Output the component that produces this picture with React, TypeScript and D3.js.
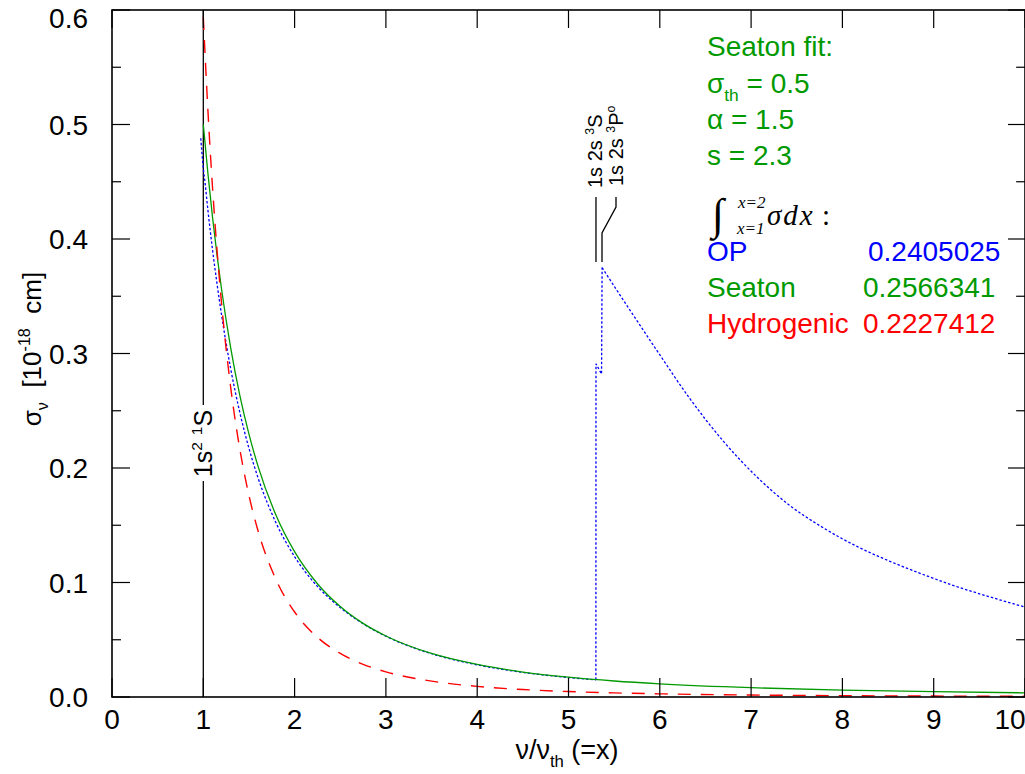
import React from 'react';
import * as d3 from 'd3';

// ---------- data ----------
const seatonX = [1, 1.05, 1.1, 1.15, 1.2, 1.3, 1.4, 1.5, 1.6, 1.8, 2.0, 2.25, 2.5, 2.75, 3.0, 3.5, 4.0, 4.5, 5.0, 5.5, 6.0, 7.0, 8.0, 9.0, 10.0];
const seatonY = [0.5, 0.4576, 0.4198, 0.3862, 0.3561, 0.305, 0.2635, 0.2296, 0.2014, 0.1581, 0.1269, 0.0989, 0.079, 0.0643, 0.0533, 0.038, 0.0284, 0.0218, 0.01728, 0.01396, 0.01149, 0.00813, 0.00602, 0.00461, 0.00363];

const hydroX = [1, 1.05, 1.1, 1.15, 1.2, 1.3, 1.4, 1.5, 1.6, 1.8, 2.0, 2.25, 2.5, 2.75, 3.0, 3.5, 4.0, 4.5, 5.0, 5.5, 6.0, 7.0, 8.0, 9.0, 10.0];
const hydroY = [0.594, 0.5131, 0.4463, 0.3906, 0.3438, 0.2704, 0.2165, 0.176, 0.145, 0.1019, 0.07425, 0.05215, 0.03802, 0.02856, 0.022, 0.01386, 0.00928, 0.00652, 0.00475, 0.00357, 0.00275, 0.00173, 0.00116, 0.000815, 0.000594];

// OP cross-section: below the 1s2s thresholds
const opX1 = [0.972, 1.0, 1.02, 1.05, 1.1, 1.15, 1.2, 1.3, 1.4, 1.5, 1.6, 1.8, 2.0, 2.25, 2.5, 2.75, 3.0, 3.5, 4.0, 4.5, 5.0, 5.3];
const opY1 = [0.488, 0.462, 0.4486, 0.4256, 0.3913, 0.3611, 0.3337, 0.2867, 0.2485, 0.2172, 0.1913, 0.1515, 0.1226, 0.0966, 0.0781, 0.064, 0.0531, 0.0378, 0.0281, 0.0215, 0.017, 0.015];
// OP edge structure at the 1s2s 3S / 3P thresholds
const opXEdge = [5.3, 5.301, 5.362, 5.368];
const opYEdge = [0.015, 0.291, 0.282, 0.375];
// OP above the thresholds
const opX2 = [5.368, 5.6, 5.965, 6.33, 6.695, 7.06, 7.42, 7.79, 8.16, 8.52, 8.885, 9.25, 9.62, 10.0];
const opY2 = [0.375, 0.3467, 0.303, 0.2605, 0.2235, 0.1925, 0.1675, 0.1478, 0.1315, 0.1185, 0.107, 0.0965, 0.0873, 0.0785];

const xTicks = [0, 1, 2, 3, 4, 5, 6, 7, 8, 9, 10];
const xTickLabels = ['0', '1', '2', '3', '4', '5', '6', '7', '8', '9', '10'];
const yTicks = [0, 0.1, 0.2, 0.3, 0.4, 0.5, 0.6];
const yTickLabels = ['0.0', '0.1', '0.2', '0.3', '0.4', '0.5', '0.6'];
const yMinorTicks = [0.05, 0.15, 0.25, 0.35, 0.45, 0.55];

const thresholdX = [1.0, 5.301, 5.367];

const fitLines = ['Seaton fit:', '= 0.5', 'α = 1.5', 's = 2.3'];
const integralNames = ['OP', 'Seaton', 'Hydrogenic'];
const integralValues = ['0.2405025', '0.2566341', '0.2227412'];

// ---------- layout ----------
const W = 1025;
const H = 774;
const L = 112, R = 1025, T = 10, B = 697;
const FONT = '"Liberation Sans", Arial, Helvetica, sans-serif';
const SERIF = '"Liberation Serif", "Times New Roman", serif';
const GREEN = '#009a00';
const BLUE = '#0000ff';
const RED = '#ff0000';

type Part = { t: string; sup?: boolean; sub?: boolean };

function rich(parts: Part[], size: number) {
  let cur = 0;
  return parts.map((p, i) => {
    const target = p.sup ? -0.42 * size : p.sub ? 0.28 * size : 0;
    const dy = target - cur;
    cur = target;
    return (
      <tspan key={i} dy={dy} fontSize={p.sup || p.sub ? size * 0.62 : size}>
        {p.t}
      </tspan>
    );
  });
}

export default function App() {
  const x = d3.scaleLinear().domain([0, 10]).range([L, R]);
  const y = d3.scaleLinear().domain([0, 0.6]).range([B, T]);

  const smooth = d3
    .line<[number, number]>()
    .x((d) => x(d[0]))
    .y((d) => y(d[1]))
    .curve(d3.curveMonotoneX);
  const straight = d3
    .line<[number, number]>()
    .x((d) => x(d[0]))
    .y((d) => y(d[1]));

  const zip = (a: number[], b: number[]) => a.map((v, i) => [v, b[i]] as [number, number]);

  const seatonPath = smooth(zip(seatonX, seatonY)) || '';
  const hydroPath = smooth(zip(hydroX, hydroY)) || '';
  const op1 = smooth(zip(opX1, opY1)) || '';
  const opE = straight(zip(opXEdge, opYEdge)) || '';
  const op2 = smooth(zip(opX2, opY2)) || '';

  const x1 = x(thresholdX[0]);
  const xa = x(thresholdX[1]);
  const xb = x(thresholdX[2]);

  return (
    <svg
      width={W}
      height={H}
      style={{ position: 'absolute', left: 0, top: 0, background: '#fff' }}
      fontFamily={FONT}
    >
      <defs>
        <clipPath id="plot">
          <rect x={L} y={T} width={R - L} height={B - T} />
        </clipPath>
      </defs>

      {/* threshold lines */}
      <g stroke="#000" strokeWidth={1.3} fill="none">
        <line x1={x1} x2={x1} y1={T} y2={405} />
        <line x1={x1} x2={x1} y1={481} y2={B} />
        <line x1={xa} x2={xa} y1={197} y2={262} />
        <polyline points={`${xb},262 ${xb},233 616,207 616,197`} />
      </g>
      <text
        transform={`translate(${x1 + 9},443.5) rotate(-90)`}
        textAnchor="middle"
        fontSize={25}
        style={{ whiteSpace: 'pre' }}
      >
        {rich([{ t: '1s' }, { t: '2', sup: true }, { t: ' ' }, { t: '1', sup: true }, { t: 'S' }], 25)}
      </text>
      <text transform={`translate(602,188) rotate(-90)`} textAnchor="start" fontSize={20} style={{ whiteSpace: 'pre' }}>
        {rich([{ t: '1s 2s ' }, { t: '3', sup: true }, { t: 'S' }], 20)}
      </text>
      <text transform={`translate(623,186) rotate(-90)`} textAnchor="start" fontSize={20} style={{ whiteSpace: 'pre' }}>
        {rich([{ t: '1s 2s ' }, { t: '3', sup: true }, { t: 'P' }, { t: 'o', sup: true }], 20)}
      </text>

      {/* curves */}
      <g clipPath="url(#plot)" fill="none">
        <path d={op1} stroke={BLUE} strokeWidth={1.3} strokeDasharray="2.5,2" />
        <path d={opE} stroke={BLUE} strokeWidth={1.3} strokeDasharray="2.5,2" />
        <path d={op2} stroke={BLUE} strokeWidth={1.3} strokeDasharray="2.5,2" />
        <path d={seatonPath} stroke={GREEN} strokeWidth={1.3} />
        <path d={hydroPath} stroke={RED} strokeWidth={1.4} strokeDasharray="13,10" />
      </g>

      {/* frame */}
      <rect x={L} y={T} width={R - L} height={B - T} fill="none" stroke="#000" strokeWidth={1.6} />

      {/* ticks */}
      <g stroke="#000" strokeWidth={1.2}>
        {xTicks.map((v) => (
          <g key={'xt' + v}>
            <line x1={x(v)} x2={x(v)} y1={B} y2={B - 19} />
            <line x1={x(v)} x2={x(v)} y1={T} y2={T + 18} />
          </g>
        ))}
        {yTicks.map((v) => (
          <g key={'yt' + v}>
            <line x1={L} x2={L + 18} y1={y(v)} y2={y(v)} />
            <line x1={R} x2={R - 17} y1={y(v)} y2={y(v)} />
          </g>
        ))}
        {yMinorTicks.map((v) => (
          <g key={'ym' + v}>
            <line x1={L} x2={L + 9} y1={y(v)} y2={y(v)} />
            <line x1={R} x2={R - 9} y1={y(v)} y2={y(v)} />
          </g>
        ))}
      </g>

      {/* tick labels */}
      <g fontSize={28} fill="#000">
        {yTicks.map((v, i) => (
          <text key={'yl' + v} x={88} y={Math.max(y(v), 18)} dy="0.36em" textAnchor="end">
            {yTickLabels[i]}
          </text>
        ))}
        {xTicks.map((v, i) => (
          <text key={'xl' + v} x={Math.min(x(v), 1010)} y={729} textAnchor="middle">
            {xTickLabels[i]}
          </text>
        ))}
      </g>

      {/* axis titles */}
      <text transform="translate(41,349) rotate(-90)" textAnchor="middle" fontSize={26} style={{ whiteSpace: 'pre' }}>
        {rich([{ t: 'σ' }, { t: 'ν', sub: true }, { t: '  [10' }, { t: '-18', sup: true }, { t: '  cm]' }], 26)}
      </text>
      <text x={567} y={759} textAnchor="middle" fontSize={27} style={{ whiteSpace: 'pre' }}>
        {rich([{ t: 'ν/ν' }, { t: 'th', sub: true }, { t: ' (=x)' }], 27)}
      </text>

      {/* Seaton fit parameters */}
      <g fill={GREEN} fontSize={28} style={{ whiteSpace: 'pre' }}>
        <text x={707} y={56}>{fitLines[0]}</text>
        <text x={707} y={93}>
          {rich([{ t: 'σ' }, { t: 'th', sub: true }, { t: ' ' + fitLines[1] }], 28)}
        </text>
        <text x={707} y={129}>{fitLines[2]}</text>
        <text x={707} y={165}>{fitLines[3]}</text>
      </g>

      {/* integral expression */}
      <g fontFamily={SERIF} fill="#000" fontStyle="italic">
        <text x={712} y={229} fontSize={44} fontStyle="normal">∫</text>
        <text x={738} y={208} fontSize={17}>x=2</text>
        <text x={737} y={234} fontSize={17}>x=1</text>
        <text x={767} y={225} fontSize={29} letterSpacing={2}>σdx</text>
        <text x={822} y={225} fontSize={29} fontStyle="normal">:</text>
      </g>

      {/* integral values */}
      <g fontSize={28}>
        <text x={707} y={261} fill={BLUE}>{integralNames[0]}</text>
        <text x={868} y={261} fill={BLUE}>{integralValues[0]}</text>
        <text x={707} y={297} fill={GREEN}>{integralNames[1]}</text>
        <text x={863} y={297} fill={GREEN}>{integralValues[1]}</text>
        <text x={707} y={333} fill={RED}>{integralNames[2]}</text>
        <text x={863} y={333} fill={RED}>{integralValues[2]}</text>
      </g>
    </svg>
  );
}
